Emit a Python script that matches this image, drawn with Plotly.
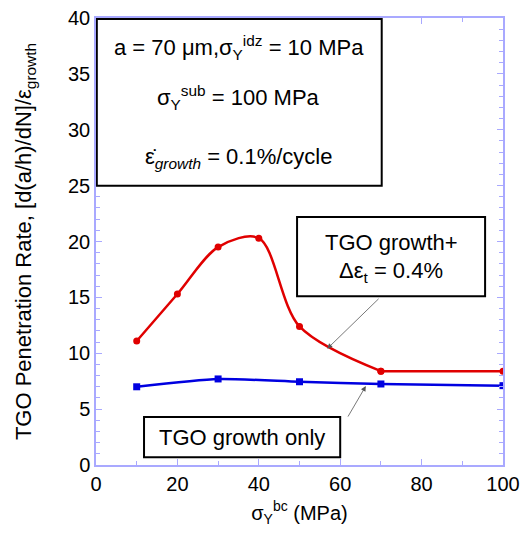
import plotly.graph_objects as go

# Yield strength of the bond coat (MPa)
sigma_bc_combined = [10, 20, 30, 40, 50, 70, 100]
rate_combined = [11.1, 15.3, 19.5, 20.3, 12.4, 8.4, 8.4]

sigma_bc_growth = [10, 30, 50, 70, 100]
rate_growth = [7.0, 7.7, 7.45, 7.25, 7.1]

x_ticks = [0, 20, 40, 60, 80, 100]
y_ticks = [0, 5, 10, 15, 20, 25, 30, 35, 40]

AXIS_BLUE = "#a9a9ff"
FONT = "Liberation Sans, Arial, sans-serif"

fig = go.Figure()

# TGO growth + thermal cycling: smooth curve up to 70 MPa, then flat
fig.add_trace(go.Scatter(
    x=sigma_bc_combined[:6], y=rate_combined[:6],
    mode="lines+markers",
    line=dict(color="#e00000", width=2.5, shape="spline", smoothing=0.9),
    marker=dict(symbol="circle", size=7, color="#e00000"),
    showlegend=False,
))
fig.add_trace(go.Scatter(
    x=sigma_bc_combined[5:], y=rate_combined[5:],
    mode="lines+markers",
    line=dict(color="#e00000", width=2.5),
    marker=dict(symbol="circle", size=7, color="#e00000"),
    showlegend=False,
))

# TGO growth only
fig.add_trace(go.Scatter(
    x=sigma_bc_growth, y=rate_growth,
    mode="lines+markers",
    line=dict(color="#0000e0", width=2.5, shape="spline", smoothing=0.6),
    marker=dict(symbol="square", size=7, color="#0000e0"),
    showlegend=False,
))

# Framed text boxes
boxes = [
    (0.2, 25.0, 70.2, 39.9),
    (49.4, 15.1, 95.6, 22.2),
    (11.8, 0.7, 60.0, 4.3),
]
for x0, y0, x1, y1 in boxes:
    fig.add_shape(type="rect", xref="x", yref="y", x0=x0, y0=y0, x1=x1, y1=y1,
                  line=dict(color="black", width=2), fillcolor="white", layer="above")

txt = dict(size=22, color="black", family=FONT)
notes = [
    (35.1, 37.4, "a = 70 μm,σ<sub>Y</sub><sup>idz</sup> = 10 MPa"),
    (35.1, 32.9, "σ<sub>Y</sub><sup>sub</sup> = 100 MPa"),
    (35.1, 27.5, "ε̇<sub><i>growth</i></sub> = 0.1%/cycle"),
    (72.5, 19.9, "TGO growth+"),
    (72.5, 17.3, "Δε<sub>t</sub> = 0.4%"),
    (35.9, 2.5, "TGO growth only"),
]
for x, y, t in notes:
    fig.add_annotation(x=x, y=y, xref="x", yref="y", text=t, showarrow=False,
                       font=txt, xanchor="center", yanchor="middle")

# Leader arrows from the boxes to the curves
arrows = [
    ((69.8, 15.0), (56.8, 10.4)),
    ((61.7, 4.2), (66.3, 7.07)),
]
for (ax, ay), (hx, hy) in arrows:
    fig.add_annotation(x=hx, y=hy, ax=ax, ay=ay, xref="x", yref="y",
                       axref="x", ayref="y", text="", showarrow=True,
                       arrowhead=2, arrowsize=1.3, arrowwidth=0.8,
                       arrowcolor="#555555")

axis_common = dict(
    showline=True, linecolor=AXIS_BLUE, linewidth=1.5, mirror="ticks",
    ticks="inside", ticklen=6, tickcolor=AXIS_BLUE, tickwidth=1.2,
    showgrid=False, zeroline=False, ticklabeloverflow="allow",
    tickfont=dict(size=20, color="black", family=FONT),
)

fig.update_xaxes(
    range=[0, 100], tickvals=x_ticks, automargin="bottom",
    minor=dict(dtick=10, ticks="inside", ticklen=4, tickcolor=AXIS_BLUE, showgrid=False),
    title=dict(text="σ<sub>Y</sub><sup>bc</sup> (MPa)", font=dict(size=20, color="black", family=FONT), standoff=12),
    **axis_common,
)
fig.update_yaxes(
    range=[0, 40], tickvals=y_ticks, automargin="left",
    minor=dict(dtick=1, ticks="inside", ticklen=4, tickcolor=AXIS_BLUE, showgrid=False),
    title=dict(text="TGO Penetration Rate, [d(a/h)/dN]/ε<sub>growth</sub>",
               font=dict(size=22, color="black", family=FONT), standoff=30),
    **axis_common,
)

fig.update_layout(
    width=523, height=542,
    margin=dict(l=96, r=20, t=18, b=77),
    plot_bgcolor="white", paper_bgcolor="white",
)

fig.write_html("out.html")
